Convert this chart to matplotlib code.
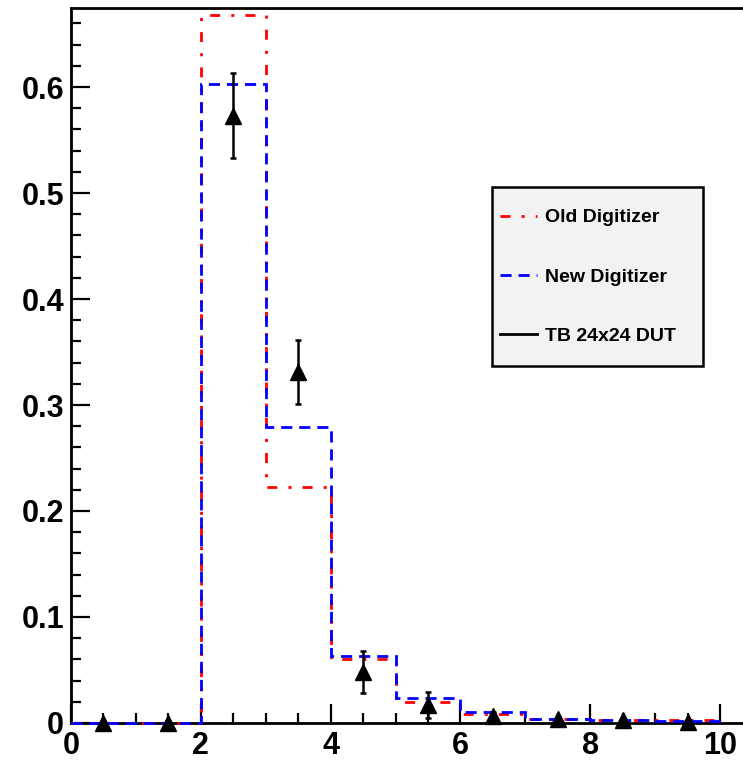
import numpy as np
import matplotlib
matplotlib.use('Agg')
import matplotlib.pyplot as plt
from matplotlib.patches import Rectangle
from matplotlib.lines import Line2D
from matplotlib.ticker import MultipleLocator

plt.rcParams['font.family'] = ['Liberation Sans', 'DejaVu Sans']
plt.rcParams['font.weight'] = 'bold'
plt.rcParams['lines.scale_dashes'] = False

# bin edges and contents of the cluster size distributions
edges = np.arange(0, 11)
old_digi = [0, 0, 0.668, 0.223, 0.0604, 0.0201, 0.0087, 0.0040, 0.0028, 0.0024]
new_digi = [0, 0, 0.6025, 0.2795, 0.0632, 0.0240, 0.0100, 0.0041, 0.0025, 0.0016]

# test beam measurement (bin centres)
tb_x = [0.5, 1.5, 2.5, 3.5, 4.5, 5.5, 6.5, 7.5, 8.5, 9.5]
tb_y = [0, 0, 0.573, 0.331, 0.048, 0.017, 0.0066, 0.0037, 0.0025, 0.0013]
tb_err = [0, 0, 0.040, 0.030, 0.020, 0.012, 0.004, 0.002, 0.002, 0.001]

fig = plt.figure(figsize=(7.43, 7.63), dpi=100)
ax = fig.add_axes([71 / 743, 40 / 763, 680 / 743, 715 / 763])

red_style = (0, (7.2, 8.0, 2.2, 8.0))
blue_style = (0, (8, 5))

ax.stairs(old_digi, edges, color='red', lw=2.0, linestyle=red_style,
          zorder=3, clip_on=False)
ax.stairs(new_digi, edges, color='blue', lw=2.0, linestyle=blue_style,
          zorder=4, clip_on=False)
ax.errorbar(tb_x, tb_y, yerr=tb_err, fmt='^', color='black', ms=12,
            elinewidth=1.8, capsize=2.5, capthick=1.8,
            zorder=5, clip_on=False)

ax.set_xlim(0, 680 / 64.9)
ax.set_ylim(0, 715 / 1060)

ax.xaxis.set_major_locator(MultipleLocator(2))
ax.xaxis.set_minor_locator(MultipleLocator(0.5))
ax.yaxis.set_major_locator(MultipleLocator(0.1))
ax.yaxis.set_minor_locator(MultipleLocator(0.02))
ax.set_xticks([0, 2, 4, 6, 8, 10])
ax.set_xticklabels(['0', '2', '4', '6', '8', '10'])
ax.set_yticks([0, 0.1, 0.2, 0.3, 0.4, 0.5, 0.6])
ax.set_yticklabels(['0', '0.1', '0.2', '0.3', '0.4', '0.5', '0.6'])

ax.tick_params(which='both', direction='in', width=1.6, labelsize=22,
               top=False, right=False)
ax.tick_params(which='major', length=14)
ax.tick_params(which='minor', length=7)
ax.tick_params(axis='x', pad=6)
ax.tick_params(axis='y', pad=5)
for lab in ax.get_xticklabels() + ax.get_yticklabels():
    lab.set_fontweight('bold')

for side in ['left', 'bottom', 'top']:
    ax.spines[side].set_linewidth(2)
ax.spines['right'].set_visible(False)

# legend box, drawn in the axes so it sits under the legend entries
box = Rectangle((492 / 743, 1 - 366 / 763), 211 / 743, 179 / 763,
                transform=fig.transFigure, facecolor='#f2f2f2',
                edgecolor='black', lw=1.8, zorder=6, clip_on=False)
ax.add_patch(box)
handles = [Line2D([], [], color='red', lw=2.0, linestyle=red_style),
           Line2D([], [], color='blue', lw=2.0, linestyle=blue_style),
           Line2D([], [], color='black', lw=2.0)]
labels = ['Old Digitizer', 'New Digitizer', 'TB 24x24 DUT']
leg = ax.legend(handles, labels, loc='center left',
                bbox_to_anchor=(500 / 743, 1 - 277 / 763),
                bbox_transform=fig.transFigure, frameon=False, borderpad=0,
                borderaxespad=0, handlelength=1.9, handletextpad=0.4,
                labelspacing=2.15, prop={'size': 14, 'weight': 'bold'})
leg.set_zorder(7)

plt.savefig('out.png', dpi=100)
